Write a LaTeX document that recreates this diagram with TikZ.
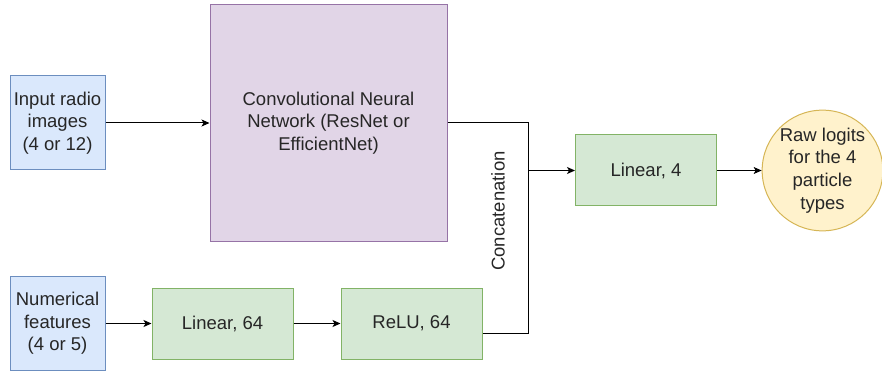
\documentclass[tikz,border=0pt]{standalone}
\usepackage{fontspec}
\setmainfont{Liberation Sans}
\usepackage{tikz}
\usetikzlibrary{positioning,arrows.meta,calc}

\definecolor{inblue}{HTML}{DAE8FC}
\definecolor{inblueline}{HTML}{6C8EBF}
\definecolor{cnnpurple}{HTML}{E1D5E7}
\definecolor{cnnpurpleline}{HTML}{9673A6}
\definecolor{laygreen}{HTML}{D5E8D4}
\definecolor{laygreenline}{HTML}{82B366}
\definecolor{outyellow}{HTML}{FFF2CC}
\definecolor{outyellowline}{HTML}{D6B656}

\begin{document}
\begin{tikzpicture}[x=1pt, y=-1pt,
    every node/.style={font=\fontsize{18.5}{22.7}\selectfont, text=black!85, align=center, inner sep=0pt},
    inbox/.style={rectangle, draw=inblueline, fill=inblue, line width=1pt, minimum width=95pt, minimum height=94pt},
    cnnbox/.style={rectangle, draw=cnnpurpleline, fill=cnnpurple, line width=1pt, minimum width=237pt, minimum height=236pt},
    laybox/.style={rectangle, draw=laygreenline, fill=laygreen, line width=1pt, minimum width=141pt, minimum height=71pt},
    outcirc/.style={circle, draw=outyellowline, fill=outyellow, line width=1pt, minimum size=118pt},
    link/.style={line width=1pt, -{Stealth[length=8pt,width=7pt,inset=2pt]}}]
\useasboundingbox (0,0) rectangle (882,371);

% input branch
\node[inbox] (img) at (57.5,123) {Input radio\\images\\(4 or 12)};
\node[cnnbox] (cnn) at (328.5,123) {Convolutional Neural\\Network (ResNet or\\EfficientNet)};

% numerical branch
\node[inbox] (num) at (57.5,323.5) {Numerical\\features\\(4 or 5)};
\node[laybox] (lin64) at (222.5,323.5) {Linear, 64};
\node[laybox, right=47pt of lin64] (relu) {ReLU, 64};

% head
\node[laybox] (lin4) at (646,170.5) {Linear, 4};
\node[outcirc] (logits) at (822.5,170.5) {Raw logits\\for the 4\\particle\\types};

\coordinate (jtop) at (528,123);
\coordinate (jmid) at (528,170.5);
\coordinate (jbot) at (528,333);
\node[rotate=90] (cat) at (498,211) {Concatenation};

\draw[link] (img) -- (cnn);
\draw[link] (num) -- (lin64);
\draw[link] (lin64) -- (relu);
\draw[line width=1pt] (cnn.east |- jtop) -- (jtop) -- (jbot) -- (relu.east |- jbot);
\draw[link] (jmid) -- (lin4);
\draw[link] (lin4) -- (logits);
\end{tikzpicture}
\end{document}
